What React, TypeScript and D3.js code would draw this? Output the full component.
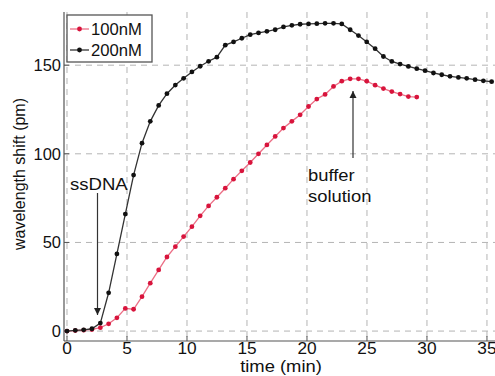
import { useEffect, useRef } from 'react'
import * as d3 from 'd3'

const times = [
  0, 0.69, 1.39, 2.08, 2.78, 3.47, 4.16, 4.86, 5.55, 6.25,
  6.94, 7.64, 8.33, 9.03, 9.72, 10.41, 11.1, 11.8, 12.49, 13.19,
  13.88, 14.57, 15.27, 15.96, 16.66, 17.35, 18.04, 18.74, 19.43, 20.13,
  20.82, 21.51, 22.21, 22.9, 23.6, 24.29, 24.98, 25.68, 26.37, 27.07,
  27.76, 28.45, 29.15, 29.84, 30.54, 31.23, 31.92, 32.62, 33.31, 34.01,
  34.7, 35.39
]

const shift200 = [
  0, 0.4, 0.7, 1.3, 4.5, 21.6, 43.5, 66, 88, 106,
  118.3, 127.3, 133.9, 138.8, 142.6, 146.2, 149.4, 152.2, 154.5, 161.3,
  163.1, 165.2, 167.2, 168.2, 169.1, 170, 171.6, 172.5, 173.1, 173.3,
  173.4, 173.6, 173.6, 173.3, 170, 166.7, 163.1, 159.3, 154.9, 152.1,
  150.6, 149.3, 148, 146.9, 145.6, 144.6, 143.7, 143.1, 142.6, 141.8,
  141.2, 140.7
]

const shift100 = [
  0, 0.3, 0.5, 0.9, 1.9, 4.1, 7.5, 12.8, 12.3, 19.4,
  27, 34.5, 41.8, 47.6, 53.3, 58.9, 65, 70.6, 75.5, 80.6,
  85.7, 90.4, 95.1, 100, 105, 109.8, 114.5, 118.3, 122, 126.7,
  130.9, 133.5, 138, 141, 142.3, 142.3, 141, 138.7, 136.8, 135.1,
  133.7, 132.3, 132
]

const xTicks = [0, 5, 10, 15, 20, 25, 30, 35]
const yTicks = [0, 50, 100, 150]

const series = [
  { label: '100nM', values: shift100, line: '#ec6f86', dot: '#d8143c' },
  { label: '200nM', values: shift200, line: '#333333', dot: '#111111' }
]

const FONT = 'Liberation Sans, Arial, sans-serif'

export default function App() {
  const svgRef = useRef<SVGSVGElement>(null)
  const width = 495
  const height = 376

  useEffect(() => {
    if (!svgRef.current) return
    const svg = d3.select(svgRef.current)
    svg.selectAll('*').remove()

    const left = 64
    const right = 495
    const top = 12
    const bottom = 341

    const x = d3.scaleLinear().domain([-0.25, 35.67]).range([left, right])
    const y = d3.scaleLinear().domain([-5.6, 180]).range([bottom, top])

    // text that is a bit wider than Arial, like the scanned figure
    const label = (tx: number, ty: number, s: string, anchor = 'start', sx = 1.13) =>
      svg.append('text')
        .attr('transform', `translate(${tx},${ty}) scale(${sx},1)`)
        .attr('text-anchor', anchor)
        .style('font-family', FONT).style('font-size', '16px').style('fill', '#111')
        .text(s)

    // grid
    xTicks.forEach(t => {
      svg.append('line')
        .attr('x1', x(t)).attr('x2', x(t))
        .attr('y1', top).attr('y2', bottom)
        .style('stroke', '#b4b4b4')
        .style('stroke-width', '1px')
        .style('stroke-dasharray', '6,5')
    })
    yTicks.forEach(v => {
      svg.append('line')
        .attr('x1', left).attr('x2', right)
        .attr('y1', y(v)).attr('y2', y(v))
        .style('stroke', '#b4b4b4')
        .style('stroke-width', '1px')
        .style('stroke-dasharray', '6,5')
    })

    // axes
    svg.append('line')
      .attr('x1', left).attr('x2', left).attr('y1', top).attr('y2', bottom)
      .style('stroke', '#555').style('stroke-width', '1.2px')
    svg.append('line')
      .attr('x1', left).attr('x2', right).attr('y1', bottom).attr('y2', bottom)
      .style('stroke', '#555').style('stroke-width', '1.2px')

    xTicks.forEach(t => {
      svg.append('line')
        .attr('x1', x(t)).attr('x2', x(t)).attr('y1', bottom).attr('y2', bottom - 5)
        .style('stroke', '#555')
      label(x(t), bottom + 13, String(t), 'middle', 1.08)
    })
    yTicks.forEach(v => {
      svg.append('line')
        .attr('x1', left).attr('x2', left + 5).attr('y1', y(v)).attr('y2', y(v))
        .style('stroke', '#555')
      label(left - 3, y(v) + 6, String(v), 'end', 1.03)
    })

    // axis labels
    label(281, 372, 'time (min)', 'middle', 1.15)
    svg.append('text')
      .attr('transform', 'translate(25,174) rotate(-90)')
      .attr('text-anchor', 'middle')
      .style('font-family', FONT).style('font-size', '16px').style('fill', '#111')
      .text('wavelength shift (pm)')

    // series
    series.forEach(s => {
      const pts = s.values.map((v, i) => [times[i], v] as [number, number])
      const line = d3.line<[number, number]>().x(d => x(d[0])).y(d => y(d[1]))
      svg.append('path')
        .datum(pts)
        .attr('d', line)
        .style('fill', 'none')
        .style('stroke', s.line)
        .style('stroke-width', '1.3px')
      svg.selectAll(null)
        .data(pts)
        .join('circle')
        .attr('cx', d => x(d[0]))
        .attr('cy', d => y(d[1]))
        .attr('r', 2.4)
        .style('fill', s.dot)
    })

    // annotations
    const defs = svg.append('defs')
    defs.append('marker')
      .attr('id', 'arrow')
      .attr('viewBox', '0 0 10 10')
      .attr('refX', 10).attr('refY', 5)
      .attr('markerWidth', 7).attr('markerHeight', 9)
      .attr('markerUnits', 'userSpaceOnUse')
      .attr('orient', 'auto')
      .append('path')
      .attr('d', 'M0,0 L10,5 L0,10 z')
      .style('fill', '#222')

    label(70, 190, 'ssDNA', 'start', 1.16)
    svg.append('line')
      .attr('x1', 97.5).attr('x2', 97.5).attr('y1', 193).attr('y2', 315)
      .style('stroke', '#333').style('stroke-width', '1.2px')
      .attr('marker-end', 'url(#arrow)')

    label(308, 181, 'buffer', 'start', 1.15)
    label(308, 202, 'solution', 'start', 1.15)
    svg.append('line')
      .attr('x1', 353).attr('x2', 353).attr('y1', 158).attr('y2', 91)
      .style('stroke', '#333').style('stroke-width', '1.2px')
      .attr('marker-end', 'url(#arrow)')

    // legend
    svg.append('rect')
      .attr('x', 67).attr('y', 15).attr('width', 85).attr('height', 47)
      .style('fill', '#fff')
      .style('stroke', '#555')
      .style('stroke-width', '1.3px')
    series.forEach((s, i) => {
      const ly = 29 + i * 21
      svg.append('line')
        .attr('x1', 70).attr('x2', 89).attr('y1', ly).attr('y2', ly)
        .style('stroke', s.line).style('stroke-width', '1.3px')
      svg.append('circle')
        .attr('cx', 79.5).attr('cy', ly).attr('r', 2.4)
        .style('fill', s.dot)
      label(91, ly + 6, s.label, 'start', 1.04)
    })
  }, [])

  return (
    <svg
      ref={svgRef}
      width={width}
      height={height}
      style={{ position: 'absolute', left: 0, top: 0, background: '#fff' }}
    />
  )
}
